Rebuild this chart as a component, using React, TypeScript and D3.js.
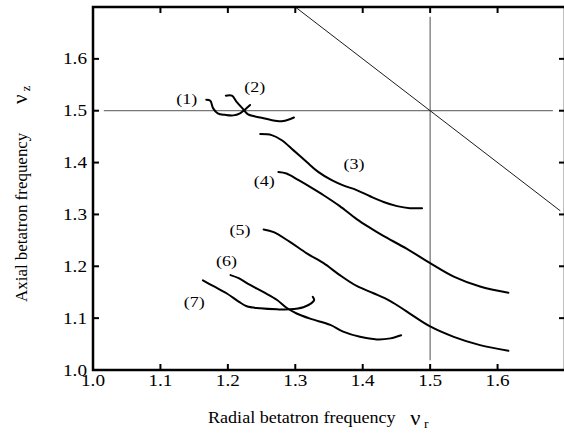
import React from "react";
import * as d3 from "d3";

const W = 564;
const H = 435;

const xTicks = [1.0, 1.1, 1.2, 1.3, 1.4, 1.5, 1.6];
const yTicks = [1.0, 1.1, 1.2, 1.3, 1.4, 1.5, 1.6];
const xTickLabels = ["1.0", "1.1", "1.2", "1.3", "1.4", "1.5", "1.6"];
const yTickLabels = ["1.0", "1.1", "1.2", "1.3", "1.4", "1.5", "1.6"];

// curves: [nu_r, nu_z]
const curve1: [number, number][] = [
  [1.168, 1.521], [1.174, 1.519], [1.178, 1.505], [1.185, 1.495], [1.196, 1.492],
  [1.208, 1.491], [1.218, 1.495], [1.226, 1.503], [1.233, 1.511],
];
const curve2: [number, number][] = [
  [1.197, 1.529], [1.206, 1.529], [1.213, 1.517], [1.222, 1.504], [1.230, 1.493],
  [1.248, 1.487], [1.273, 1.480], [1.282, 1.480], [1.298, 1.487],
];
const curve3: [number, number][] = [
  [1.248, 1.455], [1.265, 1.453], [1.280, 1.443], [1.297, 1.424], [1.317, 1.401],
  [1.334, 1.382], [1.354, 1.366], [1.371, 1.356], [1.391, 1.347], [1.411, 1.335],
  [1.431, 1.324], [1.451, 1.316], [1.470, 1.312], [1.488, 1.312],
];
const curve4: [number, number][] = [
  [1.275, 1.382], [1.287, 1.379], [1.305, 1.366], [1.322, 1.353], [1.342, 1.337],
  [1.366, 1.316], [1.391, 1.291], [1.411, 1.274], [1.430, 1.259], [1.465, 1.234],
  [1.500, 1.206], [1.535, 1.180], [1.574, 1.161], [1.616, 1.149],
];
const curve5: [number, number][] = [
  [1.253, 1.271], [1.268, 1.266], [1.292, 1.247], [1.317, 1.225], [1.342, 1.206],
  [1.366, 1.183], [1.391, 1.162], [1.416, 1.148], [1.441, 1.133], [1.465, 1.113],
  [1.500, 1.084], [1.535, 1.064], [1.574, 1.048], [1.616, 1.037],
];
const curve6: [number, number][] = [
  [1.204, 1.183], [1.216, 1.177], [1.233, 1.164], [1.253, 1.150], [1.273, 1.135],
  [1.287, 1.120], [1.302, 1.109], [1.322, 1.099], [1.352, 1.087], [1.371, 1.074],
  [1.396, 1.064], [1.421, 1.059], [1.441, 1.061], [1.457, 1.067],
];
const curve7: [number, number][] = [
  [1.163, 1.173], [1.178, 1.162], [1.198, 1.148], [1.216, 1.132], [1.228, 1.123],
  [1.248, 1.119], [1.273, 1.117], [1.292, 1.117], [1.312, 1.121], [1.324, 1.129],
  [1.328, 1.135], [1.326, 1.141],
];
const curves = [curve1, curve2, curve3, curve4, curve5, curve6, curve7];

// curve labels (anchor = middle, baseline)
const labelNames = ["(1)", "(2)", "(3)", "(4)", "(5)", "(6)", "(7)"];
const labelX = [1.139, 1.240, 1.387, 1.254, 1.218, 1.198, 1.150];
const labelY = [1.512, 1.536, 1.388, 1.355, 1.260, 1.200, 1.121];

// resonance lines
const hLine = { y: 1.5, x0: 1.016, x1: 1.682 };
const vLine = { x: 1.5, y0: 1.019, y1: 1.681 };
const diagSum = 3.0;
const diagX = [1.3, 1.693];

const FONT = "'Liberation Serif', 'Times New Roman', serif";

function ST(props: {
  x: number;
  y: number;
  rotate?: number;
  anchor?: "start" | "middle" | "end";
  size: number;
  sx?: number;
  children: React.ReactNode;
}) {
  const { x, y, rotate = 0, anchor = "start", size, sx = 1.2, children } = props;
  return (
    <text
      transform={`translate(${x},${y}) rotate(${rotate}) scale(${sx},1)`}
      textAnchor={anchor}
      fontSize={size}
      fontFamily={FONT}
      fill="#000"
    >
      {children}
    </text>
  );
}

export default function App() {
  const x = d3.scaleLinear().domain([1.0, 1.7]).range([93, 565]);
  const y = d3.scaleLinear().domain([1.0, 1.7]).range([370, 7]);
  const line = d3
    .line<[number, number]>()
    .x((d) => x(d[0]))
    .y((d) => y(d[1]))
    .curve(d3.curveCatmullRom.alpha(0.5));

  const tickLen = 6;

  return (
    <svg
      width={W}
      height={H}
      style={{ position: "absolute", left: 0, top: 0, background: "#fff" }}
      fontFamily={FONT}
    >
      <rect x={0} y={0} width={W} height={H} fill="#fff" />
      {/* resonance lines */}
      <line x1={x(hLine.x0)} x2={x(hLine.x1)} y1={y(hLine.y)} y2={y(hLine.y)} stroke="#777" strokeWidth={1.3} />
      <line x1={x(vLine.x)} x2={x(vLine.x)} y1={y(vLine.y0)} y2={y(vLine.y1)} stroke="#777" strokeWidth={1.3} />
      <line
        x1={x(diagX[0])}
        y1={y(diagSum - diagX[0])}
        x2={x(diagX[1])}
        y2={y(diagSum - diagX[1])}
        stroke="#000"
        strokeWidth={0.9}
      />
      {/* curves */}
      {curves.map((c, i) => (
        <path key={i} d={line(c) || ""} fill="none" stroke="#000" strokeWidth={2} strokeLinecap="round" strokeLinejoin="round" />
      ))}
      {/* labels */}
      {labelNames.map((t, i) => (
        <ST key={t} x={x(labelX[i])} y={y(labelY[i])} anchor="middle" size={15}>
          {t}
        </ST>
      ))}
      {/* frame */}
      <rect x={x(1.0)} y={y(1.7)} width={x(1.7) - x(1.0)} height={y(1.0) - y(1.7)} fill="none" stroke="#000" strokeWidth={2.5} />
      {/* x ticks bottom & top */}
      {xTicks.map((v, i) => (
        <g key={"xt" + i}>
          <line x1={x(v)} x2={x(v)} y1={y(1.0)} y2={y(1.0) - tickLen} stroke="#000" strokeWidth={2} />
          <line x1={x(v)} x2={x(v)} y1={y(1.7)} y2={y(1.7) + tickLen} stroke="#000" strokeWidth={2} />
          <ST x={x(v)} y={y(1.0) + 16} anchor="middle" size={16}>
            {xTickLabels[i]}
          </ST>
        </g>
      ))}
      {/* y ticks left & right */}
      {yTicks.map((v, i) => (
        <g key={"yt" + i}>
          <line x1={x(1.0)} x2={x(1.0) + tickLen} y1={y(v)} y2={y(v)} stroke="#000" strokeWidth={2} />
          <line x1={x(1.7)} x2={x(1.7) - tickLen} y1={y(v)} y2={y(v)} stroke="#000" strokeWidth={2} />
          <ST x={x(1.0) - 6} y={y(v) + 5.5} anchor="end" size={16}>
            {yTickLabels[i]}
          </ST>
        </g>
      ))}
      {/* axis titles */}
      <ST x={208} y={423} size={16} sx={1.13}>
        Radial betatron frequency
        <tspan dx={13} dy={2} fontSize={20}>ν</tspan>
        <tspan dx={3} dy={3} fontSize={12}>r</tspan>
      </ST>
      <ST x={27} y={302} rotate={-90} size={16} sx={1.06}>
        Axial betatron frequency
        <tspan dx={27} dy={0} fontSize={20}>ν</tspan>
        <tspan dx={3} dy={3} fontSize={12}>z</tspan>
      </ST>
    </svg>
  );
}
